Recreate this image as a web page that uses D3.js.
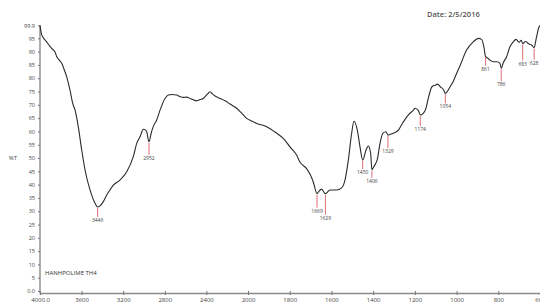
<!DOCTYPE html>
<html>
<head>
<meta charset="utf-8">
<style>
    body { margin: 0; background-color: #FFF; }
    #chartArea { width: 540px; height: 305px; }
    text { font-family: "Open Sans", "DejaVu Sans", sans-serif; }
</style>
</head>
<body>
<div id="chartArea"></div>
<script src="https://cdnjs.cloudflare.com/ajax/libs/d3/7.8.5/d3.min.js"></script>
<script>
    /* -----------------------------------
        data
    ----------------------------------- */
    var wavenumbers = [4000,3985,3974,3955,3936,3910,3888,3870,3856,3839,3815,3791,3765,3743,3712,3686,3663,3632,3599,3567,
        3519,3471,3446,3423,3391,3360,3327,3295,3231,3166,3103,3070,3038,3007,2985,2974,2952,2930,2911,2878,
        2846,2798,2766,2734,2686,2650,2622,2590,2558,2493,2460,2430,2395,2365,2340,2317,2269,2220,2173,2109,
        2060,2013,1980,1958,1910,1862,1831,1799,1767,1751,1719,1700,1687,1669,1660,1647,1629,1607,1575,1551,
        1535,1519,1503,1492,1476,1463,1450,1434,1423,1412,1406,1395,1380,1367,1354,1338,1329,1315,1303,1279,
        1255,1231,1207,1199,1183,1174,1150,1134,1118,1102,1091,1078,1062,1054,1031,1015,1000,984,952,920,
        896,880,869,861,850,840,824,808,792,786,775,760,744,728,715,700,690,683,670,655,
        640,628,618,606,600];
    var transmittance = [99.9,96.5,95.6,94.5,93.7,92.3,91.2,90.6,89.9,88.1,86.8,85.6,83.0,80.5,75.6,70.6,68.0,61.8,53.0,45.5,
        38.0,33.0,31.6,32.0,33.6,36.0,38.0,39.8,41.7,44.8,50.5,55.5,58.0,60.8,60.5,59.9,56.1,59.5,61.8,64.3,
        68.0,72.4,73.7,73.9,73.7,73.0,72.8,72.9,72.4,71.5,72.0,72.4,73.8,74.9,74.0,73.3,72.4,71.5,70.3,68.7,
        66.8,64.9,63.8,63.0,61.8,59.3,57.4,54.2,51.1,48.5,46.0,43.5,41.0,36.6,37.5,38.3,36.6,38.0,38.0,38.8,
        41.7,49.2,59.3,63.8,60.5,54.2,49.2,53.0,54.5,51.8,45.6,47.0,49.5,55.5,59.3,59.9,58.6,59.0,59.3,60.5,
        63.6,66.2,68.0,68.7,67.8,66.2,68.0,73.0,76.8,77.4,77.8,76.8,75.6,74.3,76.8,79.0,81.8,84.6,90.6,93.7,
        95.0,94.6,91.8,88.1,87.5,86.8,86.2,86.2,85.6,83.8,86.0,88.1,91.8,93.7,94.6,93.5,94.3,93.0,93.8,93.0,
        92.5,91.5,95.0,99.0,99.9];

    var peaks = [3446, 2952, 1669, 1629, 1450, 1406, 1329, 1174, 1054, 861, 786, 683, 628];

    var xTicks = [4000, 3600, 3200, 2800, 2400, 2000, 1800, 1600, 1400, 1200, 1000, 800, 600];
    var yTicks = [0, 5, 10, 15, 20, 25, 30, 35, 40, 45, 50, 55, 60, 65, 70, 75, 80, 85, 90, 95, 99.9];

    var sampleName = "HANHPOLIME TH4";
    var dateText = "Date: 2/5/2016";

    /* -----------------------------------
        initialize
    ----------------------------------- */
    var width = 540, height = 305;

    // length of each peak marker stem, px (keeps labels apart)
    var stemLen = [9, 12, 13, 20, 8, 7, 12, 10, 9, 8, 12, 16, 11];

    var svg = d3.select("#chartArea").append("svg")
        .attr("width", width)
        .attr("height", height)
        .style("background", "#FFF");

    // IR convention: scale doubles below 2000 cm-1
    var x = d3.scaleLinear().domain([4000, 2000, 600]).range([40, 248, 540]);
    var y = d3.scaleLinear().domain([0, 99.9]).range([291, 25.3]);

    var axisY = 293;

    /* -----------------------------------
        axes
    ----------------------------------- */
    var xAxis = d3.axisBottom(x)
        .tickValues(xTicks)
        .tickSize(2)
        .tickFormat(function(d) { return d === 4000 ? "4000.0" : d; });

    var gx = svg.append("g")
        .attr("transform", "translate(0," + axisY + ")")
        .call(xAxis);
    gx.select(".domain").attr("stroke", "#8a8a8a").attr("stroke-width", 1.6);
    gx.selectAll(".tick line").attr("stroke", "#777").attr("y1", -2);
    gx.selectAll(".tick text")
        .attr("y", 5)
        .attr("font-size", 6)
        .attr("fill", "#444");

    var yAxis = d3.axisLeft(y)
        .tickValues(yTicks)
        .tickSize(2)
        .tickFormat(function(d) { return d === 0 ? "0.0" : d; });

    var gy = svg.append("g")
        .attr("transform", "translate(40,0)")
        .call(yAxis);
    gy.select(".domain").attr("stroke", "#8a8a8a").attr("stroke-width", 1.4)
        .attr("d", "M0," + y(99.9) + "V" + axisY);
    gy.selectAll(".tick line").attr("stroke", "#777");
    gy.selectAll(".tick text")
        .attr("x", -5)
        .attr("font-size", 5.5)
        .attr("fill", "#444");

    svg.append("text")
        .attr("x", 13).attr("y", 160)
        .attr("text-anchor", "middle")
        .attr("font-size", 6)
        .attr("fill", "#444")
        .text("%T");

    /* -----------------------------------
        spectrum
    ----------------------------------- */
    var points = wavenumbers.map(function(w, i) { return [w, transmittance[i]]; });
    var tByW = new Map(points);

    svg.append("path")
        .datum(points)
        .attr("fill", "none")
        .attr("stroke", "#2b2b2b")
        .attr("stroke-width", 1.1)
        .attr("stroke-linejoin", "round")
        .attr("d", d3.line()
            .x(function(d) { return x(d[0]); })
            .y(function(d) { return y(d[1]); })
            .curve(d3.curveMonotoneX));

    /* -----------------------------------
        peak markers
    ----------------------------------- */
    var marks = svg.selectAll(".peak").data(peaks).enter()
        .append("g").attr("class", "peak");

    marks.append("line")
        .attr("x1", function(d) { return x(d); })
        .attr("x2", function(d) { return x(d); })
        .attr("y1", function(d) { return y(tByW.get(d)) + 1; })
        .attr("y2", function(d, i) { return y(tByW.get(d)) + 1 + stemLen[i]; })
        .attr("stroke", "#e06a74")
        .attr("stroke-width", 1);

    marks.append("text")
        .attr("x", function(d) { return x(d); })
        .attr("y", function(d, i) { return y(tByW.get(d)) + stemLen[i] + 6; })
        .attr("text-anchor", "middle")
        .attr("font-size", 5)
        .attr("fill", "#444")
        .text(function(d) { return d; });

    /* -----------------------------------
        labels
    ----------------------------------- */
    svg.append("text")
        .attr("x", 45).attr("y", 275)
        .attr("font-size", 6)
        .attr("fill", "#333")
        .text(sampleName);

    svg.append("text")
        .attr("x", 427).attr("y", 17)
        .attr("font-size", 7.5)
        .attr("font-weight", 600)
        .attr("fill", "#555")
        .text(dateText);
</script>
</body>
</html>
